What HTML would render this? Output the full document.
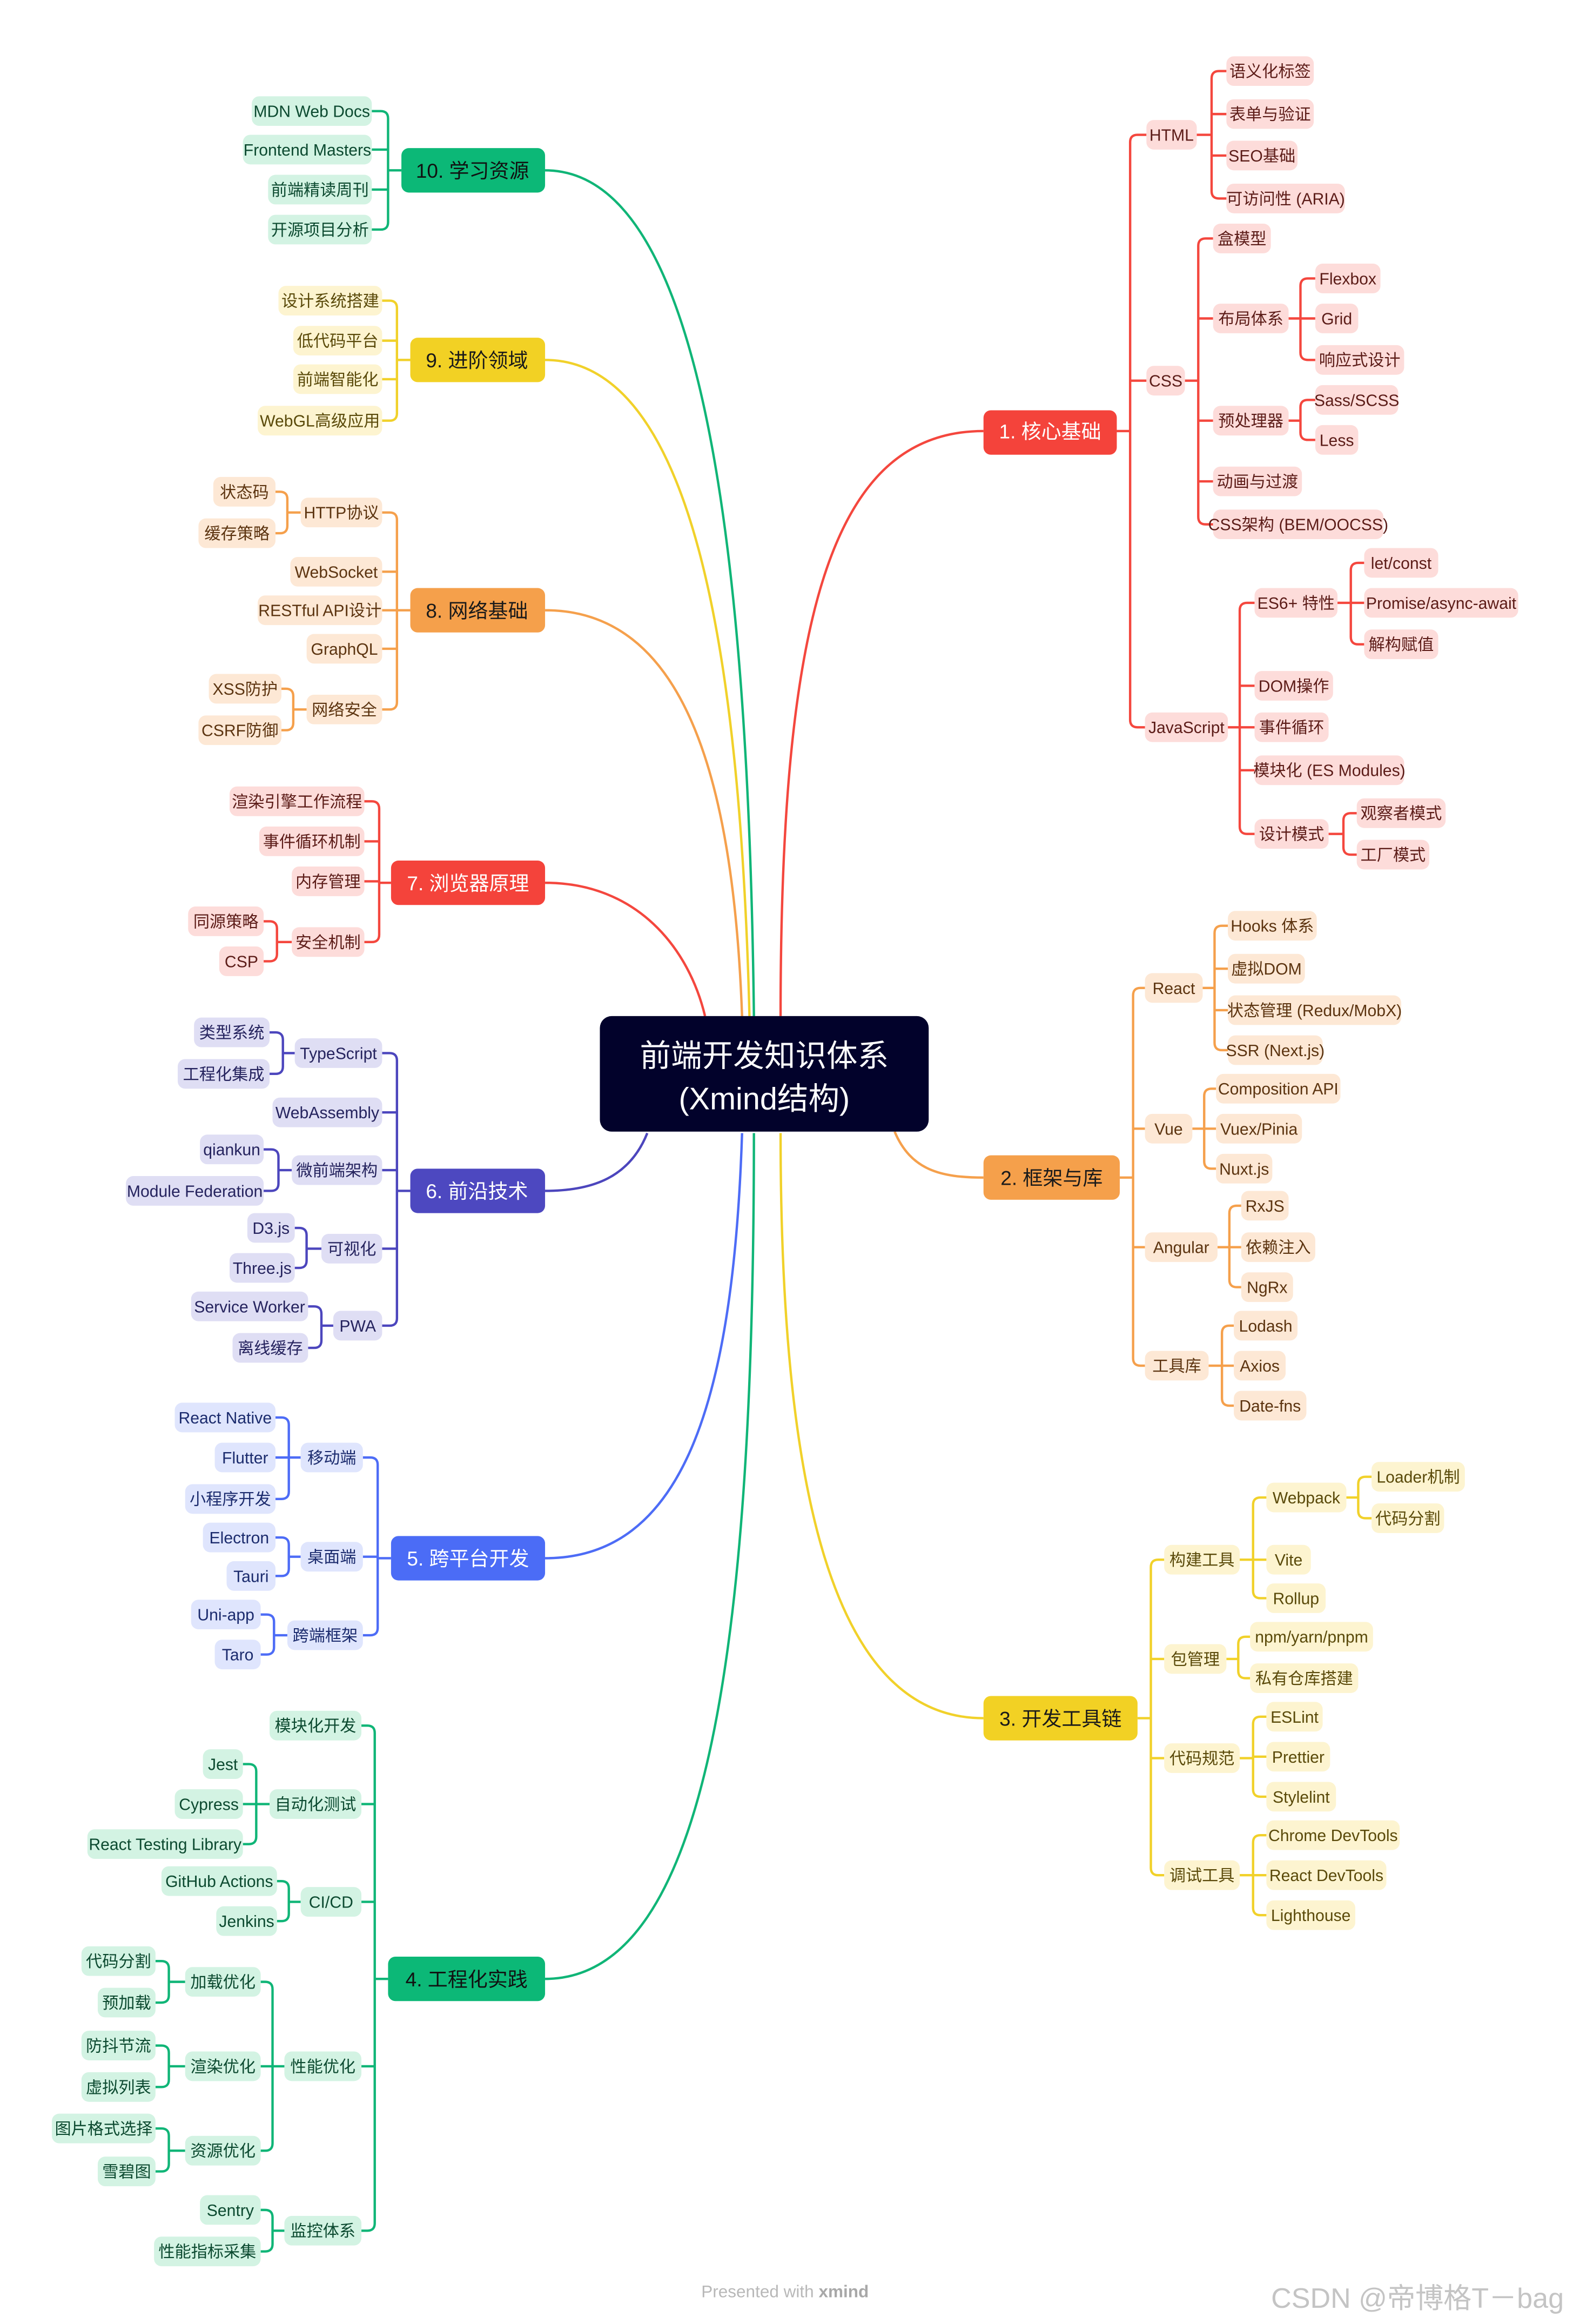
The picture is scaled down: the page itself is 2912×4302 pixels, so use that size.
<!DOCTYPE html>
<html><head><meta charset="utf-8"><style>
html,body{margin:0;padding:0;background:#fff}
svg{display:block}
text{font-family:"Liberation Sans","Noto Sans CJK SC",sans-serif;font-size:11px;text-anchor:middle}
.r rect{fill:#fddcda}.r text{fill:#5c1c18}
.o rect{fill:#fde8d5}.o text{fill:#5c3410}
.y rect{fill:#fdf4d0}.y text{fill:#5a4a0a}
.g rect{fill:#d3f3e3}.g text{fill:#0c4a30}
.b rect{fill:#dfe5fd}.b text{fill:#1c2c6e}
.i rect{fill:#dfdef4}.i text{fill:#25235e}
path{fill:none;stroke-width:1.6}
.m text{font-size:13.5px}
</style></head><body>
<svg width="2912" height="4302" viewBox="0 0 1062 1569" preserveAspectRatio="none" xmlns="http://www.w3.org/2000/svg">
<rect width="1062" height="1569" fill="#fff"/>
<!-- main curves -->
<path stroke="#f4473e" stroke-width="2" d="M527 686C527 420 560 291 664 291"/>
<path stroke="#f5a04c" stroke-width="2" d="M604 764C615 790 635 795 664 795"/>
<path stroke="#f1d12a" stroke-width="2" d="M527 765C527 1000 560 1160 664 1160"/>
<path stroke="#10b577" stroke-width="2" d="M509 765C509 1100 480 1336 368 1336"/>
<path stroke="#4d6cf6" stroke-width="2" d="M501 765C495 950 460 1052 368 1052"/>
<path stroke="#4c46bd" stroke-width="2" d="M437 765C425 795 400 804 368 804"/>
<path stroke="#f4473e" stroke-width="2" d="M476 686C465 640 430 596 368 596"/>
<path stroke="#f5a04c" stroke-width="2" d="M501 686C495 520 460 412 368 412"/>
<path stroke="#f1d12a" stroke-width="2" d="M506 686C500 450 470 243 368 243"/>
<path stroke="#10b577" stroke-width="2" d="M509 686C505 350 470 115 368 115"/>

<!-- connectors red 1 -->
<g stroke="#f4473e">
<path d="M754 291H763M774 91H768Q763 91 763 96V486Q763 491 768 491H774M763 257H774"/>
<path d="M808 91H818M828 48H823Q818 48 818 53V129Q818 134 823 134H828M818 77H828M818 105H828"/>
<path d="M800 257H809M819 161H814Q809 161 809 166V349Q809 354 814 354H819M809 215H819M809 284H819M809 325H819"/>
<path d="M870 215H878M888 188H883Q878 188 878 193V238Q878 243 883 243H888M878 215H888"/>
<path d="M870 284H878M888 270H883Q878 270 878 275V292Q878 297 883 297H888"/>
<path d="M829 491H837M847 407H842Q837 407 837 412V558Q837 563 842 563H847M837 463H847M837 491H847M837 520H847"/>
<path d="M903 407H912M921 380H917Q912 380 912 385V430Q912 435 917 435H921M912 407H921"/>
<path d="M897 563H907M916 549H912Q907 549 907 554V572Q907 577 912 577H916"/>
</g>
<!-- orange 2 -->
<g stroke="#f5a04c">
<path d="M756 795H765M773 667H770Q765 667 765 672V917Q765 922 770 922H773M765 762H773M765 842H773"/>
<path d="M812 667H820M829 625H825Q820 625 820 630V704Q820 709 825 709H829M820 654H829M820 682H829"/>
<path d="M805 762H813M821 735H818Q813 735 813 740V784Q813 789 818 789H821M813 762H821"/>
<path d="M822 842H830M838 814H835Q830 814 830 819V864Q830 869 835 869H838M830 842H838"/>
<path d="M816 922H825M833 895H830Q825 895 825 900V944Q825 949 830 949H833M825 922H833"/>
</g>
<!-- yellow 3 -->
<g stroke="#f1d12a">
<path d="M768 1160H777M786 1053H782Q777 1053 777 1058V1261Q777 1266 782 1266H786M777 1120H786M777 1187H786"/>
<path d="M837 1053H846M855 1011H851Q846 1011 846 1016V1074Q846 1079 851 1079H855M846 1053H855"/>
<path d="M909 1011H917M926 997H922Q917 997 917 1002V1020Q917 1025 922 1025H926"/>
<path d="M828 1120H836M844 1105H841Q836 1105 836 1110V1128Q836 1133 841 1133H844"/>
<path d="M837 1187H846M855 1159H851Q846 1159 846 1164V1208Q846 1213 851 1213H855M846 1186H855"/>
<path d="M837 1266H846M855 1239H851Q846 1239 846 1244V1288Q846 1293 851 1293H855M846 1266H855"/>
</g>
<!-- green 10 -->
<g stroke="#10b577">
<path d="M271 115H262M251 75H257Q262 75 262 80V150Q262 155 257 155H251M262 101H251M262 128H251"/>
</g>
<!-- yellow 9 -->
<g stroke="#f1d12a">
<path d="M277 243H268M258 203H263Q268 203 268 208V279Q268 284 263 284H258M268 230H258M268 256H258"/>
</g>
<!-- orange 8 -->
<g stroke="#f5a04c">
<path d="M277 412H268M258 346H263Q268 346 268 351V474Q268 479 263 479H258M268 386H258M268 412H258M268 438H258"/>
<path d="M203 346H194M186 332H189Q194 332 194 337V355Q194 360 189 360H186"/>
<path d="M207 479H198M190 465H193Q198 465 198 470V488Q198 493 193 493H190"/>
</g>
<!-- red 7 -->
<g stroke="#f4473e">
<path d="M264 596H256M246 541H251Q256 541 256 546V631Q256 636 251 636H246M256 568H246M256 595H246"/>
<path d="M197 636H187M178 622H182Q187 622 187 627V644Q187 649 182 649H178"/>
</g>
<!-- indigo 6 -->
<g stroke="#4c46bd">
<path d="M277 804H268M258 711H263Q268 711 268 716V890Q268 895 263 895H258M268 751H258M268 790H258M268 843H258"/>
<path d="M199 711H191M182 697H186Q191 697 191 702V720Q191 725 186 725H182"/>
<path d="M197 790H188M178 776H183Q188 776 188 781V799Q188 804 183 804H178"/>
<path d="M217 843H207M199 829H202Q207 829 207 834V851Q207 856 202 856H199"/>
<path d="M225 895H217M208 882H212Q217 882 217 887V905Q217 910 212 910H208"/>
</g>
<!-- blue 5 -->
<g stroke="#4d6cf6">
<path d="M264 1052H255M245 984H250Q255 984 255 989V1099Q255 1104 250 1104H245M255 1051H245"/>
<path d="M203 984H195M186 957H190Q195 957 195 962V1007Q195 1012 190 1012H186M195 984H186"/>
<path d="M203 1051H195M186 1038H190Q195 1038 195 1043V1059Q195 1064 190 1064H186"/>
<path d="M194 1104H185M176 1090H180Q185 1090 185 1095V1112Q185 1117 180 1117H176"/>
</g>
<!-- green 4 -->
<g stroke="#10b577">
<path d="M262 1336H253M244 1165H248Q253 1165 253 1170V1501Q253 1506 248 1506H244M253 1218H244M253 1284H244M253 1395H244"/>
<path d="M182 1218H173M164 1191H168Q173 1191 173 1196V1240Q173 1245 168 1245H164M173 1218H164"/>
<path d="M203 1284H195M187 1270H190Q195 1270 195 1275V1292Q195 1297 190 1297H187"/>
<path d="M192 1395H184M176 1338H179Q184 1338 184 1343V1447Q184 1452 179 1452H176M184 1395H176"/>
<path d="M125 1338H114M105 1324H109Q114 1324 114 1329V1347Q114 1352 109 1352H105"/>
<path d="M125 1395H114M105 1381H109Q114 1381 114 1386V1404Q114 1409 109 1409H105"/>
<path d="M125 1452H114M105 1437H109Q114 1437 114 1442V1461Q114 1466 109 1466H105"/>
<path d="M192 1506H184M176 1492H179Q184 1492 184 1497V1515Q184 1520 179 1520H176"/>
</g>

<!-- root -->
<rect x="405" y="686" width="222" height="78" rx="8" fill="#02022b"/>
<text x="516" y="720" style="font-size:21px;fill:#fff">前端开发知识体系</text>
<text x="516" y="749" style="font-size:21px;fill:#fff">(Xmind结构)</text>

<!-- main nodes -->
<g class="m">
<rect x="664" y="277" width="90" height="30" rx="5" fill="#f4433b"/><text x="709" y="296" fill="#fff">1. 核心基础</text>
<rect x="664" y="780" width="92" height="30" rx="5" fill="#f5a04b"/><text x="710" y="800" fill="#1a1a1a">2. 框架与库</text>
<rect x="664" y="1145" width="104" height="30" rx="5" fill="#f2d124"/><text x="716" y="1165" fill="#1a1a1a">3. 开发工具链</text>
<rect x="262" y="1321" width="106" height="30" rx="5" fill="#0cb877"/><text x="315" y="1341" fill="#111">4. 工程化实践</text>
<rect x="264" y="1037" width="104" height="30" rx="5" fill="#4b6cf6"/><text x="316" y="1057" fill="#fff">5. 跨平台开发</text>
<rect x="277" y="789" width="91" height="30" rx="5" fill="#4d48c0"/><text x="322" y="809" fill="#fff">6. 前沿技术</text>
<rect x="264" y="581" width="104" height="30" rx="5" fill="#f4433b"/><text x="316" y="601" fill="#fff">7. 浏览器原理</text>
<rect x="277" y="397" width="91" height="30" rx="5" fill="#f5a04b"/><text x="322" y="417" fill="#1a1a1a">8. 网络基础</text>
<rect x="277" y="228" width="91" height="30" rx="5" fill="#f2d124"/><text x="322" y="248" fill="#1a1a1a">9. 进阶领域</text>
<rect x="271" y="100" width="97" height="30" rx="5" fill="#0cb877"/><text x="319" y="120" fill="#111">10. 学习资源</text>
</g>

<!-- red 1 nodes -->
<g class="r">
<rect x="774" y="81" width="34" height="20" rx="5"/><text x="791" y="95">HTML</text>
<rect x="774" y="247" width="26" height="20" rx="5"/><text x="787" y="261">CSS</text>
<rect x="773" y="481" width="56" height="20" rx="5"/><text x="801" y="495">JavaScript</text>
<rect x="828" y="38" width="59" height="20" rx="5"/><text x="857.5" y="52">语义化标签</text>
<rect x="828" y="67" width="59" height="20" rx="5"/><text x="857.5" y="81">表单与验证</text>
<rect x="828" y="95" width="48" height="20" rx="5"/><text x="852" y="109">SEO基础</text>
<rect x="828" y="124" width="80" height="20" rx="5"/><text x="868" y="138">可访问性 (ARIA)</text>
<rect x="819" y="151" width="39" height="20" rx="5"/><text x="838.5" y="165">盒模型</text>
<rect x="819" y="205" width="51" height="20" rx="5"/><text x="844.5" y="219">布局体系</text>
<rect x="819" y="274" width="51" height="20" rx="5"/><text x="844.5" y="288">预处理器</text>
<rect x="819" y="315" width="60" height="20" rx="5"/><text x="849" y="329">动画与过渡</text>
<rect x="819" y="344" width="115" height="20" rx="5"/><text x="876.5" y="358">CSS架构 (BEM/OOCSS)</text>
<rect x="888" y="178" width="44" height="20" rx="5"/><text x="910" y="192">Flexbox</text>
<rect x="888" y="205" width="29" height="20" rx="5"/><text x="902.5" y="219">Grid</text>
<rect x="888" y="233" width="60" height="20" rx="5"/><text x="918" y="247">响应式设计</text>
<rect x="888" y="260" width="56" height="20" rx="5"/><text x="916" y="274">Sass/SCSS</text>
<rect x="888" y="287" width="29" height="20" rx="5"/><text x="902.5" y="301">Less</text>
<rect x="847" y="397" width="56" height="20" rx="5"/><text x="875" y="411">ES6+ 特性</text>
<rect x="847" y="453" width="53" height="20" rx="5"/><text x="873.5" y="467">DOM操作</text>
<rect x="847" y="481" width="50" height="20" rx="5"/><text x="872" y="495">事件循环</text>
<rect x="847" y="510" width="101" height="20" rx="5"/><text x="897.5" y="524">模块化 (ES Modules)</text>
<rect x="847" y="553" width="50" height="20" rx="5"/><text x="872" y="567">设计模式</text>
<rect x="921" y="370" width="50" height="20" rx="5"/><text x="946" y="384">let/const</text>
<rect x="921" y="397" width="104" height="20" rx="5"/><text x="973" y="411">Promise/async-await</text>
<rect x="921" y="425" width="50" height="20" rx="5"/><text x="946" y="439">解构赋值</text>
<rect x="916" y="539" width="60" height="20" rx="5"/><text x="946" y="553">观察者模式</text>
<rect x="916" y="567" width="49" height="20" rx="5"/><text x="940.5" y="581">工厂模式</text>
</g>
<!-- orange 2 nodes -->
<g class="o">
<rect x="773" y="657" width="39" height="20" rx="5"/><text x="792.5" y="671">React</text>
<rect x="773" y="752" width="32" height="20" rx="5"/><text x="789" y="766">Vue</text>
<rect x="773" y="832" width="49" height="20" rx="5"/><text x="797.5" y="846">Angular</text>
<rect x="773" y="912" width="43" height="20" rx="5"/><text x="794.5" y="926">工具库</text>
<rect x="829" y="615" width="60" height="20" rx="5"/><text x="859" y="629">Hooks 体系</text>
<rect x="829" y="644" width="52" height="20" rx="5"/><text x="855" y="658">虚拟DOM</text>
<rect x="829" y="672" width="117" height="20" rx="5"/><text x="887.5" y="686">状态管理 (Redux/MobX)</text>
<rect x="829" y="699" width="64" height="20" rx="5"/><text x="861" y="713">SSR (Next.js)</text>
<rect x="821" y="725" width="84" height="20" rx="5"/><text x="863" y="739">Composition API</text>
<rect x="821" y="752" width="58" height="20" rx="5"/><text x="850" y="766">Vuex/Pinia</text>
<rect x="821" y="779" width="38" height="20" rx="5"/><text x="840" y="793">Nuxt.js</text>
<rect x="838" y="804" width="32" height="20" rx="5"/><text x="854" y="818">RxJS</text>
<rect x="838" y="832" width="50" height="20" rx="5"/><text x="863" y="846">依赖注入</text>
<rect x="838" y="859" width="35" height="20" rx="5"/><text x="855.5" y="873">NgRx</text>
<rect x="833" y="885" width="43" height="20" rx="5"/><text x="854.5" y="899">Lodash</text>
<rect x="833" y="912" width="35" height="20" rx="5"/><text x="850.5" y="926">Axios</text>
<rect x="833" y="939" width="49" height="20" rx="5"/><text x="857.5" y="953">Date-fns</text>
</g>
<!-- yellow 3 nodes -->
<g class="y">
<rect x="786" y="1043" width="51" height="20" rx="5"/><text x="811.5" y="1057">构建工具</text>
<rect x="786" y="1110" width="42" height="20" rx="5"/><text x="807" y="1124">包管理</text>
<rect x="786" y="1177" width="51" height="20" rx="5"/><text x="811.5" y="1191">代码规范</text>
<rect x="786" y="1256" width="51" height="20" rx="5"/><text x="811.5" y="1270">调试工具</text>
<rect x="855" y="1001" width="54" height="20" rx="5"/><text x="882" y="1015">Webpack</text>
<rect x="855" y="1043" width="30" height="20" rx="5"/><text x="870" y="1057">Vite</text>
<rect x="855" y="1069" width="40" height="20" rx="5"/><text x="875" y="1083">Rollup</text>
<rect x="926" y="987" width="63" height="20" rx="5"/><text x="957.5" y="1001">Loader机制</text>
<rect x="926" y="1015" width="49" height="20" rx="5"/><text x="950.5" y="1029">代码分割</text>
<rect x="844" y="1095" width="83" height="20" rx="5"/><text x="885.5" y="1109">npm/yarn/pnpm</text>
<rect x="844" y="1123" width="73" height="20" rx="5"/><text x="880.5" y="1137">私有仓库搭建</text>
<rect x="855" y="1149" width="38" height="20" rx="5"/><text x="874" y="1163">ESLint</text>
<rect x="855" y="1176" width="43" height="20" rx="5"/><text x="876.5" y="1190">Prettier</text>
<rect x="855" y="1203" width="47" height="20" rx="5"/><text x="878.5" y="1217">Stylelint</text>
<rect x="855" y="1229" width="90" height="20" rx="5"/><text x="900" y="1243">Chrome DevTools</text>
<rect x="855" y="1256" width="81" height="20" rx="5"/><text x="895.5" y="1270">React DevTools</text>
<rect x="855" y="1283" width="60" height="20" rx="5"/><text x="885" y="1297">Lighthouse</text>
</g>
<!-- green 10 nodes -->
<g class="g">
<rect x="170" y="65" width="81" height="20" rx="5"/><text x="210.5" y="79">MDN Web Docs</text>
<rect x="164" y="91" width="87" height="20" rx="5"/><text x="207.5" y="105">Frontend Masters</text>
<rect x="181" y="118" width="70" height="20" rx="5"/><text x="216" y="132">前端精读周刊</text>
<rect x="181" y="145" width="70" height="20" rx="5"/><text x="216" y="159">开源项目分析</text>
</g>
<!-- yellow 9 nodes -->
<g class="y">
<rect x="188" y="193" width="70" height="20" rx="5"/><text x="223" y="207">设计系统搭建</text>
<rect x="198" y="220" width="60" height="20" rx="5"/><text x="228" y="234">低代码平台</text>
<rect x="198" y="246" width="60" height="20" rx="5"/><text x="228" y="260">前端智能化</text>
<rect x="174" y="274" width="84" height="20" rx="5"/><text x="216" y="288">WebGL高级应用</text>
</g>
<!-- orange 8 nodes -->
<g class="o">
<rect x="203" y="336" width="55" height="20" rx="5"/><text x="230.5" y="350">HTTP协议</text>
<rect x="196" y="376" width="62" height="20" rx="5"/><text x="227" y="390">WebSocket</text>
<rect x="174" y="402" width="84" height="20" rx="5"/><text x="216" y="416">RESTful API设计</text>
<rect x="207" y="428" width="51" height="20" rx="5"/><text x="232.5" y="442">GraphQL</text>
<rect x="207" y="469" width="51" height="20" rx="5"/><text x="232.5" y="483">网络安全</text>
<rect x="144" y="322" width="42" height="20" rx="5"/><text x="165" y="336">状态码</text>
<rect x="134" y="350" width="52" height="20" rx="5"/><text x="160" y="364">缓存策略</text>
<rect x="141" y="455" width="49" height="20" rx="5"/><text x="165.5" y="469">XSS防护</text>
<rect x="134" y="483" width="56" height="20" rx="5"/><text x="162" y="497">CSRF防御</text>
</g>
<!-- red 7 nodes -->
<g class="r">
<rect x="155" y="531" width="91" height="20" rx="5"/><text x="200.5" y="545">渲染引擎工作流程</text>
<rect x="175" y="558" width="71" height="20" rx="5"/><text x="210.5" y="572">事件循环机制</text>
<rect x="197" y="585" width="49" height="20" rx="5"/><text x="221.5" y="599">内存管理</text>
<rect x="197" y="626" width="49" height="20" rx="5"/><text x="221.5" y="640">安全机制</text>
<rect x="127" y="612" width="51" height="20" rx="5"/><text x="152.5" y="626">同源策略</text>
<rect x="148" y="639" width="30" height="20" rx="5"/><text x="163" y="653">CSP</text>
</g>
<!-- indigo 6 nodes -->
<g class="i">
<rect x="199" y="701" width="59" height="20" rx="5"/><text x="228.5" y="715">TypeScript</text>
<rect x="184" y="741" width="74" height="20" rx="5"/><text x="221" y="755">WebAssembly</text>
<rect x="197" y="780" width="61" height="20" rx="5"/><text x="227.5" y="794">微前端架构</text>
<rect x="217" y="833" width="41" height="20" rx="5"/><text x="237.5" y="847">可视化</text>
<rect x="225" y="885" width="33" height="20" rx="5"/><text x="241.5" y="899">PWA</text>
<rect x="131" y="687" width="51" height="20" rx="5"/><text x="156.5" y="701">类型系统</text>
<rect x="120" y="715" width="62" height="20" rx="5"/><text x="151" y="729">工程化集成</text>
<rect x="135" y="766" width="43" height="20" rx="5"/><text x="156.5" y="780">qiankun</text>
<rect x="85" y="794" width="93" height="20" rx="5"/><text x="131.5" y="808">Module Federation</text>
<rect x="167" y="819" width="32" height="20" rx="5"/><text x="183" y="833">D3.js</text>
<rect x="155" y="846" width="44" height="20" rx="5"/><text x="177" y="860">Three.js</text>
<rect x="129" y="872" width="79" height="20" rx="5"/><text x="168.5" y="886">Service Worker</text>
<rect x="157" y="900" width="51" height="20" rx="5"/><text x="182.5" y="914">离线缓存</text>
</g>
<!-- blue 5 nodes -->
<g class="b">
<rect x="203" y="974" width="42" height="20" rx="5"/><text x="224" y="988">移动端</text>
<rect x="203" y="1041" width="42" height="20" rx="5"/><text x="224" y="1055">桌面端</text>
<rect x="194" y="1094" width="51" height="20" rx="5"/><text x="219.5" y="1108">跨端框架</text>
<rect x="118" y="947" width="68" height="20" rx="5"/><text x="152" y="961">React Native</text>
<rect x="145" y="974" width="41" height="20" rx="5"/><text x="165.5" y="988">Flutter</text>
<rect x="125" y="1002" width="61" height="20" rx="5"/><text x="155.5" y="1016">小程序开发</text>
<rect x="137" y="1028" width="49" height="20" rx="5"/><text x="161.5" y="1042">Electron</text>
<rect x="153" y="1054" width="33" height="20" rx="5"/><text x="169.5" y="1068">Tauri</text>
<rect x="129" y="1080" width="47" height="20" rx="5"/><text x="152.5" y="1094">Uni-app</text>
<rect x="145" y="1107" width="31" height="20" rx="5"/><text x="160.5" y="1121">Taro</text>
</g>
<!-- green 4 nodes -->
<g class="g">
<rect x="182" y="1155" width="62" height="20" rx="5"/><text x="213" y="1169">模块化开发</text>
<rect x="182" y="1208" width="62" height="20" rx="5"/><text x="213" y="1222">自动化测试</text>
<rect x="203" y="1274" width="41" height="20" rx="5"/><text x="223.5" y="1288">CI/CD</text>
<rect x="192" y="1385" width="52" height="20" rx="5"/><text x="218" y="1399">性能优化</text>
<rect x="192" y="1496" width="52" height="20" rx="5"/><text x="218" y="1510">监控体系</text>
<rect x="137" y="1181" width="27" height="20" rx="5"/><text x="150.5" y="1195">Jest</text>
<rect x="118" y="1208" width="46" height="20" rx="5"/><text x="141" y="1222">Cypress</text>
<rect x="59" y="1235" width="105" height="20" rx="5"/><text x="111.5" y="1249">React Testing Library</text>
<rect x="109" y="1260" width="78" height="20" rx="5"/><text x="148" y="1274">GitHub Actions</text>
<rect x="146" y="1287" width="41" height="20" rx="5"/><text x="166.5" y="1301">Jenkins</text>
<rect x="125" y="1328" width="51" height="20" rx="5"/><text x="150.5" y="1342">加载优化</text>
<rect x="125" y="1385" width="51" height="20" rx="5"/><text x="150.5" y="1399">渲染优化</text>
<rect x="125" y="1442" width="51" height="20" rx="5"/><text x="150.5" y="1456">资源优化</text>
<rect x="55" y="1314" width="50" height="20" rx="5"/><text x="80" y="1328">代码分割</text>
<rect x="66" y="1342" width="39" height="20" rx="5"/><text x="85.5" y="1356">预加载</text>
<rect x="55" y="1371" width="50" height="20" rx="5"/><text x="80" y="1385">防抖节流</text>
<rect x="55" y="1399" width="50" height="20" rx="5"/><text x="80" y="1413">虚拟列表</text>
<rect x="35" y="1427" width="70" height="20" rx="5"/><text x="70" y="1441">图片格式选择</text>
<rect x="66" y="1456" width="39" height="20" rx="5"/><text x="85.5" y="1470">雪碧图</text>
<rect x="135" y="1482" width="41" height="20" rx="5"/><text x="155.5" y="1496">Sentry</text>
<rect x="104" y="1510" width="72" height="20" rx="5"/><text x="140" y="1524">性能指标采集</text>
</g>

<text x="530" y="1551" style="font-size:11.5px;fill:#b8b8b8">Presented with <tspan font-weight="bold" fill="#a8a8a8">xmind</tspan></text>
<text x="957" y="1558" style="font-size:19px;fill:#c4c4c4">CSDN @帝博格T－bag</text>
</svg>
</body></html>
